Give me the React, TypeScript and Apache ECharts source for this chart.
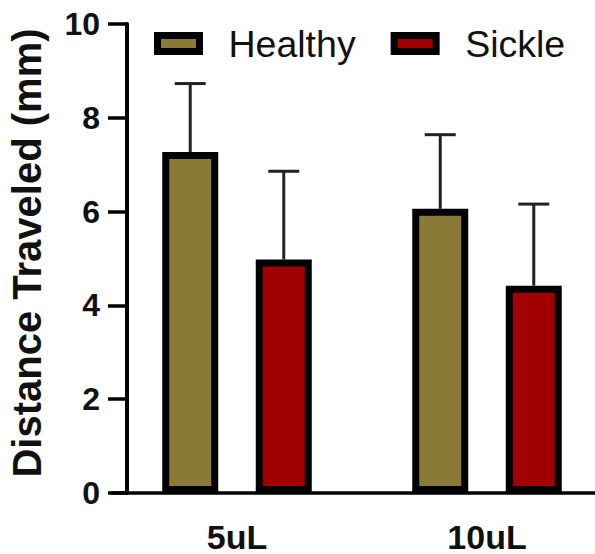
import React, { useEffect, useRef } from "react";
import * as echarts from "echarts";

const categories = ["5uL", "10uL"];
const seriesNames = ["Healthy", "Sickle"];
const healthyMean = [7.27, 6.06];
const healthySD = [1.46, 1.58];
const sickleMean = [4.98, 4.42];
const sickleSD = [1.88, 1.74];
const yTicks = [0, 2, 4, 6, 8, 10];

const colors = ["#8A7A37", "#A00000"];
const FONT = "Arial, 'Liberation Sans', Helvetica, sans-serif";
const BAR_W = 56;
const BAR_GAP = 0.67;
const OFFSET = (BAR_W * (1 + BAR_GAP)) / 2;

export default function App() {
  const ref = useRef<HTMLDivElement>(null);
  useEffect(() => {
    if (!ref.current) return;
    const chart = echarts.init(ref.current, null, { renderer: "svg" });
    const errData = (means: number[], sds: number[]) =>
      means.map((m, i) => [i, m, m + sds[i]]);
    const errSeries = (name: string, means: number[], sds: number[], sign: number) => ({
      type: "custom",
      name: name + " SD",
      z: 1,
      data: errData(means, sds),
      encode: { x: 0, y: [1, 2] },
      renderItem: (_p: any, api: any) => {
        const idx = api.value(0);
        const mean = api.value(1);
        const hi = api.value(2);
        const base = api.coord([idx, mean]);
        const top = api.coord([idx, hi]);
        const x = base[0] + sign * OFFSET;
        const st = { stroke: "#222", lineWidth: 3 };
        return {
          type: "group",
          children: [
            { type: "line", shape: { x1: x, y1: base[1], x2: x, y2: top[1] }, style: st },
            { type: "line", shape: { x1: x - 15.5, y1: top[1], x2: x + 15.5, y2: top[1] }, style: st },
          ],
        };
      },
    });
    chart.setOption({
      animation: false,
      backgroundColor: "#fff",
      grid: { left: 112, top: 24, bottom: 59, width: 500, containLabel: false },
      legend: {
        data: seriesNames,
        left: 154,
        top: 23.5,
        padding: 0,
        icon: "rect",
        itemWidth: 42,
        itemHeight: 16,
        itemGap: 35,
        itemStyle: { borderColor: "#000", borderWidth: 7 },
        textStyle: {
          fontFamily: FONT,
          fontSize: 37.5,
          color: "#111",
          lineHeight: 40,
          padding: [0, 0, 0, 24],
        },
      },
      xAxis: {
        type: "category",
        data: categories,
        axisLine: { lineStyle: { color: "#000", width: 3.5 } },
        axisTick: { alignWithLabel: true, length: 18, lineStyle: { color: "#000", width: 3.5 } },
        axisLabel: {
          fontFamily: FONT,
          fontWeight: "bold",
          fontSize: 34,
          lineHeight: 28,
          color: "#111",
          margin: 30,
        },
        splitLine: { show: false },
      },
      yAxis: {
        type: "value",
        min: yTicks[0],
        max: yTicks[yTicks.length - 1],
        interval: 2,
        offset: -15,
        axisLine: { show: true, lineStyle: { color: "#000", width: 4 } },
        axisTick: { show: true, length: 19, lineStyle: { color: "#000", width: 3.5 } },
        axisLabel: { fontFamily: FONT, fontWeight: "bold", fontSize: 32, color: "#111", margin: 27 },
        splitLine: { show: false },
      },
      series: [
        errSeries("Healthy", healthyMean, healthySD, -1),
        errSeries("Sickle", sickleMean, sickleSD, 1),
        {
          type: "bar",
          name: "Healthy",
          data: healthyMean,
          barWidth: BAR_W,
          barGap: BAR_GAP * 100 + "%",
          z: 2,
          itemStyle: { color: colors[0], borderColor: "#000", borderWidth: 7 },
        },
        {
          type: "bar",
          name: "Sickle",
          data: sickleMean,
          barWidth: BAR_W,
          barGap: BAR_GAP * 100 + "%",
          z: 2,
          itemStyle: { color: colors[1], borderColor: "#000", borderWidth: 7 },
        },
      ],
      graphic: [
        {
          type: "text",
          x: 26.5,
          y: 253,
          rotation: Math.PI / 2,
          style: {
            text: "Distance Traveled (mm)",
            fontFamily: FONT,
            fontWeight: "bold",
            fontSize: 40,
            fill: "#111",
            align: "center",
            verticalAlign: "middle",
          },
        },
      ],
    });
    return () => chart.dispose();
  }, []);
  return (
    <div
      style={{
        position: "absolute",
        left: 0,
        top: 0,
        width: 595,
        height: 554,
        overflow: "hidden",
        background: "#fff",
      }}
    >
      <div ref={ref} style={{ width: 620, height: 554 }} />
    </div>
  );
}
